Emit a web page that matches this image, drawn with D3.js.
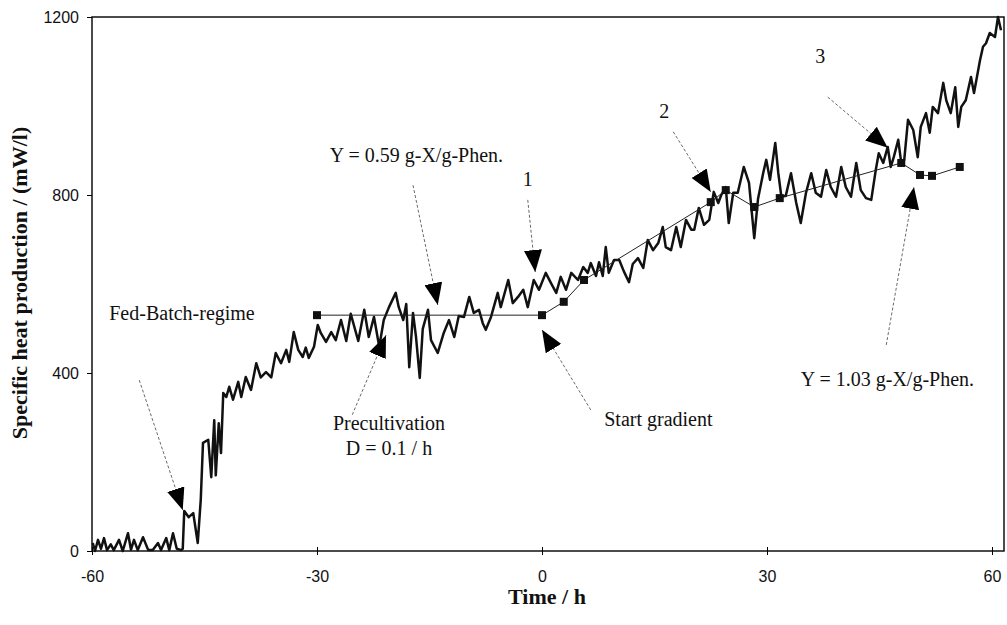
<!DOCTYPE html>
<meta charset="utf-8">
<style>
body { margin: 0; background: #fff; }
svg { font-family: "Liberation Serif", "Times New Roman", serif; }
.data-line { fill: none; stroke: #111; stroke-width: 2.5px; stroke-linejoin: round; }
.fit-line { fill: none; stroke: #222; stroke-width: 1px; }
.lead { stroke: #444; stroke-width: 0.8px; stroke-dasharray: 3,2; fill: none; }
.note { font-size: 20px; fill: #111; }
.tick-label { font-size: 16px; fill: #111; }
.title { font-size: 22px; font-weight: bold; fill: #111; }
</style>
<svg width="1007" height="625"></svg>
<script src="https://cdnjs.cloudflare.com/ajax/libs/d3/7.8.5/d3.min.js"></script>
<script>
// measured heat signal (time in h, specific heat production in mW/l)
var times = [-59.9,-59.6,-59.2,-58.8,-58.4,-58.0,-57.5,-57.1,-56.4,-55.9,-55.2,-54.8,-54.4,-53.9,-53.2,-52.5,-51.9,-51.2,-50.8,-50.1,-49.7,-49.2,-48.7,-48.1,
  -47.9,-47.7,-47.1,-46.5,-45.9,-45.5,-45.2,-44.5,-44.1,-43.7,-43.5,-43.1,-42.8,-42.5,-42.1,-41.7,-41.2,-40.5,-40.1,-39.5,-38.8,-38.1,-37.5,-36.8,-36.1,-35.5,
  -34.8,-34.1,-33.7,-33.1,-32.5,-31.9,-31.5,-31.1,-30.4,-29.9,-29.5,-28.8,-28.1,-27.5,-26.8,-26.1,-25.5,-24.5,-23.7,-23.1,-22.4,-21.7,-21.1,-20.4,-19.5,
  -19.1,-18.5,-18.1,-17.7,-17.2,-16.8,-16.3,-15.9,-15.2,-14.8,-13.9,-13.1,-12.4,-11.7,-11.1,-10.4,-9.7,-9.1,-8.4,-7.9,-7.5,-6.8,-5.9,-5.5,-4.5,-3.9,-3.2,
  -2.5,-1.9,-1.1,-0.4,0.5,1.2,1.9,2.5,3.2,3.9,4.8,5.5,6.1,6.5,7.2,7.6,8.1,8.5,8.9,9.6,10.3,10.9,11.6,12.1,12.8,13.5,14.1,14.8,15.5,16.1,16.5,17.2,17.9,
  18.5,19.2,19.9,20.3,20.9,21.6,22.3,22.9,23.5,23.9,24.5,24.9,25.5,26.1,26.9,27.6,28.3,28.8,29.5,29.9,30.4,31.1,31.5,31.9,32.5,33.2,33.9,34.5,35.2,35.9,
  36.5,37.2,37.9,38.5,39.2,39.9,40.5,41.2,41.9,42.5,43.2,43.9,44.5,44.9,45.5,46.1,46.5,46.9,47.5,47.9,48.3,48.8,49.5,50.1,50.5,51.2,51.7,52.1,52.8,53.5,
  53.9,54.5,55.1,55.5,55.9,56.5,57.2,57.6,58.4,58.8,59.2,59.7,60.4,60.8,61.2];
var heat = [18,0,25,5,29,2,15,2,25,0,40,3,25,2,31,2,2,18,2,29,2,40,5,2,
  5,90,76,85,18,115,243,250,166,294,170,287,220,355,346,369,340,380,346,391,362,422,390,402,390,445,
  422,452,425,492,452,436,457,434,459,508,490,470,492,474,519,472,533,472,542,481,526,459,519,548,580,
  548,519,555,413,535,481,389,499,542,474,445,490,519,481,528,526,571,535,542,512,497,526,580,548,609,557,571,
  587,548,609,587,625,602,580,616,587,625,609,638,625,647,618,649,618,683,625,654,654,629,604,645,658,636,699,676,692,728,683,676,728,
  683,744,722,722,771,733,744,807,782,800,818,737,805,805,863,827,703,791,850,879,834,917,850,798,798,849,782,737,805,849,
  805,796,856,818,796,863,818,796,872,811,793,789,856,894,872,908,863,885,924,872,879,969,946,885,953,984,940,998,984,1052,
  1013,984,1042,953,998,1013,1065,1029,1103,1133,1141,1164,1155,1200,1170];

// yield line with square markers
var fitTimes = [-30, 0, 2.9, 5.6, 22.5, 24.5, 28.3, 31.7, 47.9, 50.4, 52.0, 55.7];
var fitHeat = [530, 530, 560, 609, 784, 811, 773, 793, 872, 845, 843, 863];

var xTicks = [-60, -30, 0, 30, 60];
var yTicks = [0, 400, 800, 1200];

// annotations: label, text position, arrow start, arrow tip (data units)
var notes = [
  {lines: ["Fed-Batch-regime"], at: [-57.7, 519], anchor: "start", from: [-53.7, 384], to: [-47.9, 92]},
  {lines: ["Y = 0.59 g-X/g-Phen."], at: [-28.3, 874], anchor: "start", from: [-17.2, 822], to: [-13.9, 553]},
  {lines: ["1"], at: [-1.9, 820], anchor: "middle", from: [-1.9, 789], to: [-0.9, 627]},
  {lines: ["2"], at: [16.3, 973], anchor: "middle", from: [17.5, 942], to: [22.5, 807]},
  {lines: ["3"], at: [37.1, 1097], anchor: "middle", from: [38.1, 1020], to: [46.1, 906]},
  {lines: ["Y = 1.03 g-X/g-Phen."], at: [34.5, 371], anchor: "start", from: [45.9, 463], to: [49.6, 818]},
  {lines: ["Precultivation", "D = 0.1 / h"], at: [-20.4, 272], anchor: "middle", from: [-25.3, 306], to: [-20.8, 485]},
  {lines: ["Start gradient"], at: [8.3, 281], anchor: "start", from: [6.5, 317], to: [0, 497]}
];

var svg = d3.select("svg"),
    margin = {top: 17, right: 3, bottom: 74, left: 92},
    width = svg.attr("width") - margin.left - margin.right,
    height = svg.attr("height") - margin.top - margin.bottom,
    g = svg.append("g").attr("transform", "translate(" + margin.left + "," + margin.top + ")");

var x = d3.scaleLinear().domain([-60, 61.6]).range([0, width]),
    y = d3.scaleLinear().domain([0, 1200]).range([height, 0]);

svg.append("defs").append("marker")
    .attr("id", "head")
    .attr("viewBox", "0 0 22 18")
    .attr("refX", 22).attr("refY", 9)
    .attr("markerWidth", 22).attr("markerHeight", 18)
    .attr("markerUnits", "userSpaceOnUse")
    .attr("orient", "auto")
  .append("path")
    .attr("d", "M0,0L22,9L0,18Z")
    .attr("fill", "#000");

// frame
g.append("rect")
    .attr("width", width).attr("height", height)
    .attr("fill", "none").attr("stroke", "#111").attr("stroke-width", 1.5);

var fmt = function(d) { return String(d); };

// y axis
var yAxis = g.append("g").call(d3.axisLeft(y).tickValues(yTicks).tickFormat(fmt).tickSize(5).tickPadding(8));
yAxis.select(".domain").remove();

// x axis
var xAxis = g.append("g").attr("transform", "translate(0," + height + ")")
    .call(d3.axisBottom(x).tickValues(xTicks).tickFormat(fmt).tickSize(4).tickPadding(16));
xAxis.select(".domain").remove();
xAxis.selectAll("line").attr("y1", -4);
g.selectAll(".tick text").attr("class", "tick-label").attr("font-family", null).attr("font-size", null);

// data line
var pts = times.map(function(t, i) { return [t, heat[i]]; });
var line = d3.line().x(function(d) { return x(d[0]); }).y(function(d) { return y(d[1]); });
g.append("path").datum(pts).attr("class", "data-line").attr("d", line);

// yield line
var fit = fitTimes.map(function(t, i) { return [t, fitHeat[i]]; });
g.append("path").datum(fit).attr("class", "fit-line").attr("d", line);
g.selectAll(".sq").data(fit).enter().append("rect")
    .attr("x", function(d) { return x(d[0]) - 4; })
    .attr("y", function(d) { return y(d[1]) - 4; })
    .attr("width", 8).attr("height", 8)
    .attr("fill", "#111");

// annotations
notes.forEach(function(n) {
  g.append("line").attr("class", "lead")
      .attr("x1", x(n.from[0])).attr("y1", y(n.from[1]))
      .attr("x2", x(n.to[0])).attr("y2", y(n.to[1]))
      .attr("marker-end", "url(#head)");
  var t = g.append("text").attr("class", "note")
      .attr("x", x(n.at[0])).attr("y", y(n.at[1]))
      .attr("text-anchor", n.anchor);
  n.lines.forEach(function(s, i) {
    t.append("tspan").attr("x", x(n.at[0])).attr("dy", i ? 25 : 0).text(s);
  });
});

// axis titles
svg.append("text").attr("class", "title")
    .attr("x", margin.left + x(0) + 5).attr("y", 604)
    .attr("text-anchor", "middle").text("Time / h");
svg.append("text").attr("class", "title")
    .attr("transform", "translate(27," + 283 + ")rotate(-90)")
    .attr("text-anchor", "middle").text("Specific heat production / (mW/l)");
</script>
